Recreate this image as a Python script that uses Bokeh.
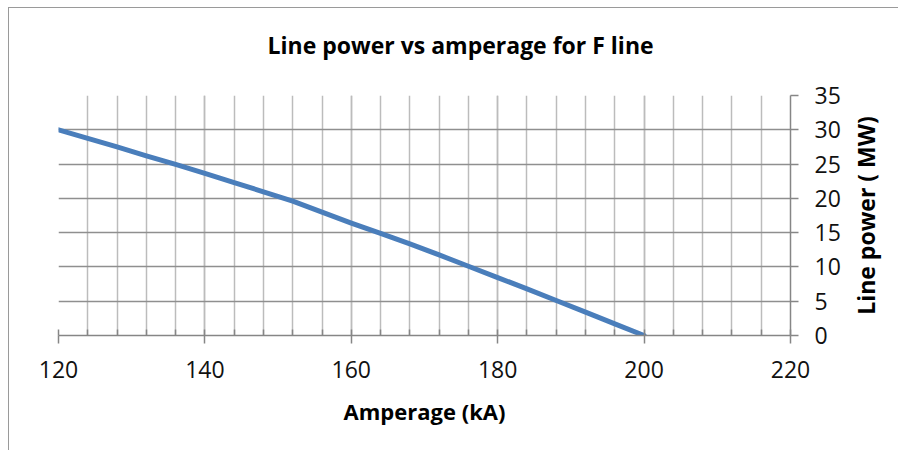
import math
from bokeh.plotting import figure
from bokeh.models import Range1d, SingleIntervalTicker, Title, Label
from bokeh.embed import file_html
from bokeh.resources import INLINE

# ---- data ----
amperage = [120, 124, 128, 132, 136, 140, 144, 148, 152, 156, 160,
            164, 168, 172, 176, 180, 184, 188, 192, 196, 200]
line_power = [30.0, 28.75, 27.5, 26.2, 24.95, 23.65, 22.3, 20.95, 19.6, 18.0, 16.4,
              14.9, 13.35, 11.75, 10.1, 8.45, 6.8, 5.1, 3.4, 1.7, 0.0]
x_ticks = [120, 140, 160, 180, 200, 220]
y_ticks = [0, 5, 10, 15, 20, 25, 30, 35]

title_text = "Line power vs amperage for F line"
x_label = "Amperage (kA)"
y_label = "Line power ( MW)"

FONT = "Open Sans"
GRID_H = "#8f8f8f"
GRID_V = "#bcbcbc"
AXIS = "#868686"
LINE = "#4a7ebb"

W, H = 890, 443
ML, MR, MT, MB = 49, 109, 87, 116

p = figure(width=W, height=H, output_backend="svg", toolbar_location=None,
           x_range=Range1d(x_ticks[0], x_ticks[-1]),
           y_range=Range1d(y_ticks[0], y_ticks[-1]),
           y_axis_location="right",
           min_border_left=ML, min_border_right=MR,
           min_border_top=MT, min_border_bottom=MB)
p.styles = {"margin-left": "8px", "margin-top": "7px",
            "border-left": "1px solid #9a9a9a", "border-top": "1px solid #9a9a9a"}
p.outline_line_color = None
p.background_fill_color = "white"
p.border_fill_color = "white"

# spacer between title and frame
p.add_layout(Title(text=" ", text_font_size="1px", standoff=27), "above")

# title
p.title.text = title_text
p.title.align = "left"
p.title.offset = 209
p.title.text_font = FONT
p.title.text_font_size = "23px"
p.title.text_font_style = "bold"
p.title.text_color = "black"
p.title.vertical_align = "bottom"
p.title.standoff = 10

# x axis
xt = SingleIntervalTicker(interval=20, num_minor_ticks=5)
p.xaxis.ticker = xt
p.xaxis.axis_line_color = AXIS
p.xaxis.axis_line_width = 1.5
p.xaxis.major_tick_line_color = AXIS
p.xaxis.major_tick_line_width = 1.5
p.xaxis.major_tick_out = 8
p.xaxis.major_tick_in = 0
p.xaxis.minor_tick_line_color = AXIS
p.xaxis.minor_tick_line_width = 1.5
p.xaxis.minor_tick_in = 6
p.xaxis.minor_tick_out = 0
p.xaxis.major_label_text_font = FONT
p.xaxis.major_label_text_font_size = "23px"
p.xaxis.major_label_text_color = "#111111"
p.xaxis.major_label_standoff = 17
p.xaxis.axis_label = x_label
p.xaxis.axis_label_text_font = FONT
p.xaxis.axis_label_text_font_size = "22px"
p.xaxis.axis_label_text_font_style = "bold"
p.xaxis.axis_label_text_color = "black"
p.xaxis.axis_label_standoff = 15

# y axis (right)
yt = SingleIntervalTicker(interval=5, num_minor_ticks=0)
p.yaxis.ticker = yt
p.yaxis.axis_line_color = AXIS
p.yaxis.axis_line_width = 1.5
p.yaxis.major_tick_line_color = AXIS
p.yaxis.major_tick_line_width = 1.5
p.yaxis.major_tick_out = 8
p.yaxis.major_tick_in = 0
p.yaxis.minor_tick_line_color = None
p.yaxis.major_label_text_font = FONT
p.yaxis.major_label_text_font_size = "23px"
p.yaxis.major_label_text_color = "#111111"
p.yaxis.major_label_standoff = 16

# y axis title, placed in the right side panel
p.add_layout(Label(x=22, y=120, x_units="screen", y_units="screen",
                   text=y_label, text_font=FONT, text_font_size="23px",
                   text_font_style="bold", text_color="black", angle=math.pi / 2,
                   text_align="center", text_baseline="middle"), "right")

# grids
p.xgrid.ticker = xt
p.xgrid.grid_line_color = GRID_V
p.xgrid.grid_line_width = 1.5
p.xgrid.minor_grid_line_color = GRID_V
p.xgrid.minor_grid_line_width = 1.5
p.ygrid.ticker = yt
p.ygrid.grid_line_color = GRID_H
p.ygrid.grid_line_width = 1.5

# data line
p.line(amperage, line_power, line_color=LINE, line_width=5,
       line_join="round", line_cap="round")

open("out.html", "w").write(file_html(p, INLINE))
